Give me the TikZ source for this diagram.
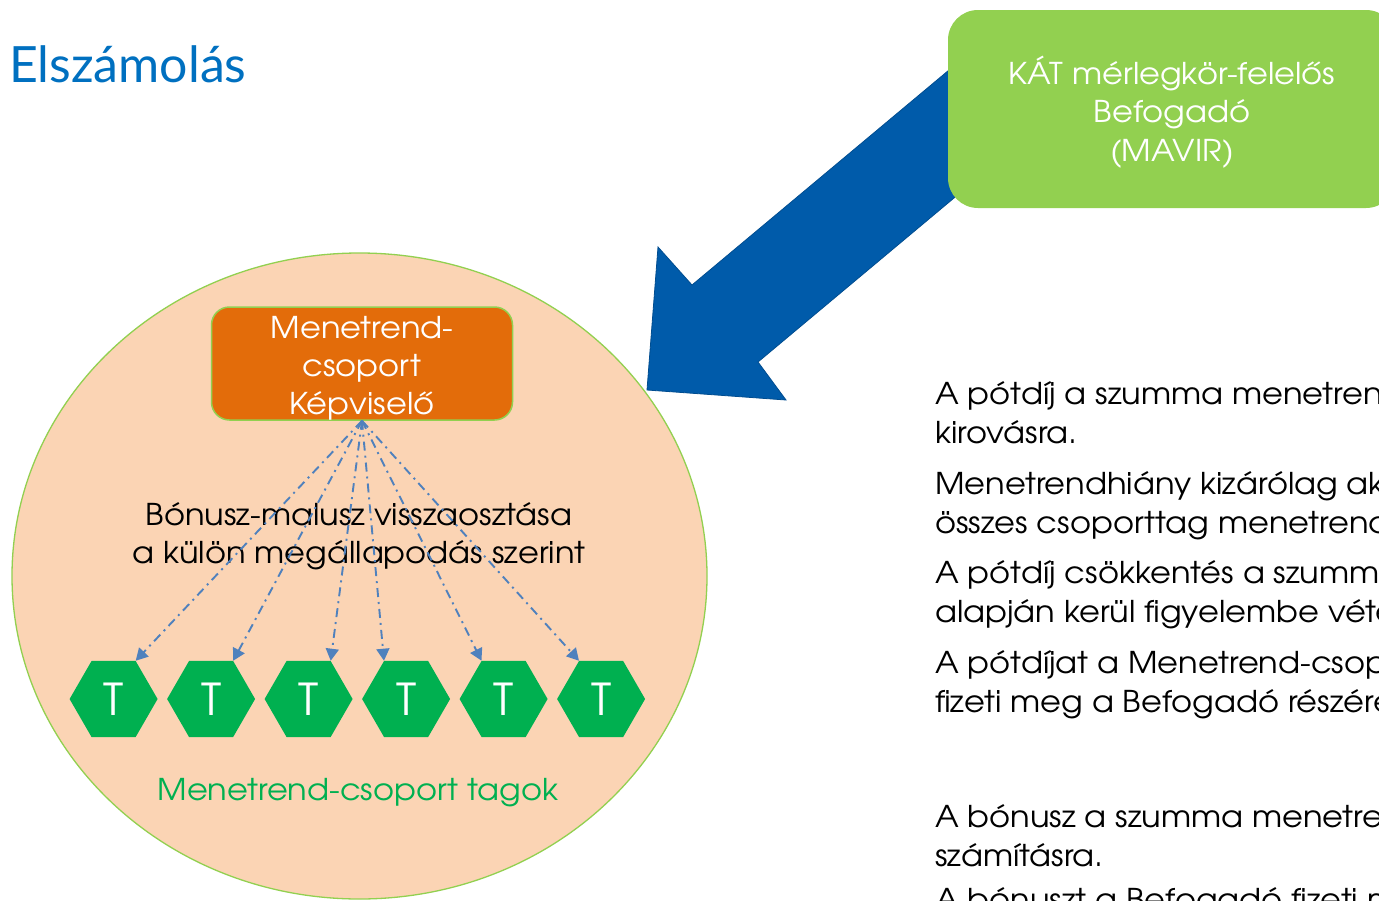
\documentclass[tikz,border=0pt]{standalone}
\usepackage{fontspec}
\setmainfont[FakeStretch=1.07]{TeX Gyre Adventor}
\newfontfamily\titlefont{Lato}
\usetikzlibrary{arrows.meta, positioning, shapes.geometric}

\definecolor{titleblue}{RGB}{0,112,192}
\definecolor{lgreen}{RGB}{146,208,80}
\definecolor{peach}{RGB}{251,212,180}
\definecolor{repor}{RGB}{227,108,10}
\definecolor{tgreen}{RGB}{0,176,80}
\definecolor{shareblue}{RGB}{79,129,189}
\definecolor{bigblue}{RGB}{0,91,170}

\begin{document}
\begin{tikzpicture}[x=1pt, y=-1pt,
  hexa/.style={regular polygon, regular polygon sides=6, fill=tgreen,
               minimum size=88pt, inner sep=0pt, text=white,
               font=\fontsize{44}{44}\selectfont},
  share/.style={draw=shareblue, line width=1.9pt,
                dash pattern=on 9pt off 5pt on 2pt off 5pt,
                -{Triangle[width=13pt, length=12pt]}},
  body/.style={font=\fontsize{30}{39}\selectfont, align=left,
               anchor=base west, inner sep=0pt}
]
  \useasboundingbox (0,0) rectangle (1379,900);
  \clip (0,0) rectangle (1379,900);

  % Title
  \node[font=\titlefont\fontsize{50}{50}\selectfont, text=titleblue,
        anchor=base west, inner sep=0pt] (title) at (9,82) {Elszámolás};

  % Group of members
  \node[ellipse, draw=lgreen, fill=peach, line width=1.3pt,
        minimum width=695pt, minimum height=646pt] (grp) at (359.5,576) {};
  \node[draw=lgreen, fill=repor, line width=1.5pt, rounded corners=18pt,
        minimum width=301pt, minimum height=113pt] (rep) at (362,363.5) {};
  \node[font=\fontsize{30}{38}\selectfont, text=white, align=center]
        (replbl) at (362,368) {Menetrend-\\csoport\\Képviselő};

  \node[font=\fontsize{30}{38}\selectfont, align=center]
        (bonus) at (359,536) {Bónusz-malusz visszaosztása\\a külön megállapodás szerint};

  % Members
  \foreach \i in {1,...,6}
    \node[hexa] (t\i) at ({16.1+97.5*\i},699) {T};
  \foreach \i/\a in {1/60,2/60,3/60,4/120,5/120,6/120}
    \draw[share] (rep.south) -- (t\i.\a);

  \node[font=\fontsize{30}{30}\selectfont, text=tgreen]
        (tagok) at (358,793) {Menetrend-csoport tagok};

  % Big arrow (behind the box)
  \fill[bigblue, draw=bigblue!85!black, line width=0.8pt]
    (647,390) -- (658,247) -- (692,285) -- (987.6,37.75)
    -- (1052.6,115.5) -- (758,362) -- (786,400) -- cycle;

  % Befogado
  \node[fill=lgreen, rounded corners=30pt, minimum width=448pt,
        minimum height=198pt] (befog) at (1172,109) {};
  \node[font=\fontsize{30}{38.5}\selectfont, text=white,
        align=center] (befoglbl) at (1172,112) {KÁT mérlegkör-felelős\\Befogadó\\(MAVIR)};

  % Notes
  \node[body] (p1) at (935,443) {A pótdíj a szumma menetrend\\kirovásra.};
  \node[body] (p2) at (935,533) {Menetrendhiány kizárólag ak\\összes csoporttag menetrend};
  \node[body] (p3) at (935,622) {A pótdíj csökkentés a szumma\\alapján kerül figyelembe véte};
  \node[body] (p4) at (935,712) {A pótdíjat a Menetrend-csopo\\fizeti meg a Befogadó részére};
  \node[body] (p5) at (935,866) {A bónusz a szumma menetren\\számításra.};
  \node[body] (p6) at (935,910) {A bónuszt a Befogadó fizeti m};
\end{tikzpicture}
\end{document}
